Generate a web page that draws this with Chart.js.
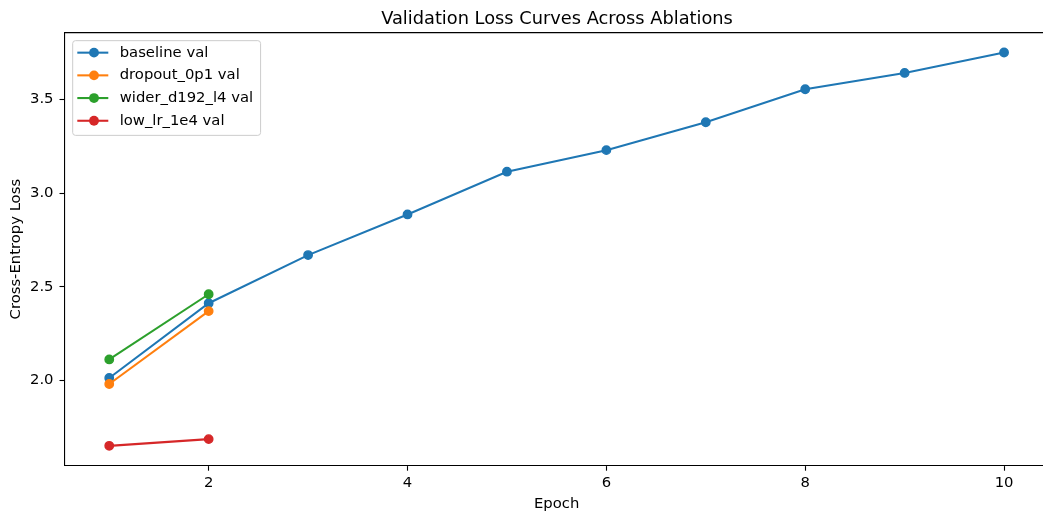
<!DOCTYPE html>
<html>
<head>
<meta charset="utf-8">
<script src="https://cdn.jsdelivr.net/npm/chart.js@4/dist/chart.umd.min.js"></script>
<style>
  html, body { margin: 0; padding: 0; background: #fff; overflow: hidden; width: 1043px; height: 518px; }
  #wrap { width: 1114px; height: 518px; }
</style>
</head>
<body>
<div id="wrap"><canvas id="c" width="1114" height="518"></canvas></div>
<script>
// ---- data ----
const epochs = [1, 2, 3, 4, 5, 6, 7, 8, 9, 10];
const baselineVal = [2.013, 2.412, 2.669, 2.886, 3.114, 3.229, 3.378, 3.554, 3.641, 3.750];
const dropoutVal = [1.981, 2.370];
const widerVal = [2.112, 2.460];
const lowLrVal = [1.651, 1.687];
const seriesLabels = ['baseline val', 'dropout_0p1 val', 'wider_d192_l4 val', 'low_lr_1e4 val'];
const xTickValues = [2, 4, 6, 8, 10];
const yTickValues = [2.0, 2.5, 3.0, 3.5];
const chartTitle = 'Validation Loss Curves Across Ablations';
const xTitle = 'Epoch';
const yTitle = 'Cross-Entropy Loss';

const colors = ['#1f77b4', '#ff7f0e', '#2ca02c', '#d62728'];
const FONT = 'DejaVu Sans';
const FS = 14.8;

function toPoints(vals) {
  return vals.map((v, i) => ({ x: epochs[i], y: v }));
}

const allSeries = [baselineVal, dropoutVal, widerVal, lowLrVal];
const datasets = allSeries.map((vals, i) => ({
  label: seriesLabels[i],
  data: toPoints(vals),
  yAxisID: 'y',
  borderColor: colors[i],
  backgroundColor: colors[i],
  pointBackgroundColor: colors[i],
  pointBorderColor: colors[i],
  borderWidth: 2.08,
  pointRadius: 4.2,
  pointBorderWidth: 1.4,
  pointHoverRadius: 4.2,
  tension: 0,
  fill: false,
  order: allSeries.length - i
}));

const framePlugin = {
  id: 'frame',
  afterDraw(chart) {
    const ctx = chart.ctx;
    const a = chart.chartArea;
    ctx.save();
    // top and right spines (right one lies just past the visible window)
    ctx.strokeStyle = '#000';
    ctx.lineWidth = 1.1;
    ctx.beginPath();
    ctx.moveTo(a.left, a.top);
    ctx.lineTo(a.right, a.top);
    ctx.lineTo(a.right, a.bottom);
    ctx.stroke();

    // legend (matplotlib style, upper left)
    ctx.font = FS + 'px "' + FONT + '"';
    const ds = chart.data.datasets;
    let maxW = 0;
    ds.forEach(d => { maxW = Math.max(maxW, ctx.measureText(d.label).width); });
    const bx = a.left + 8.2, by = a.top + 8;
    const textX = bx + 47;
    const bw = (textX - bx) + maxW + 7.5;
    const rowH = 22.7;
    const firstY = by + 12;
    const bh = 12 + rowH * (ds.length - 1) + 14.6;
    const r = 2.8;
    ctx.beginPath();
    ctx.moveTo(bx + r, by);
    ctx.lineTo(bx + bw - r, by);
    ctx.arcTo(bx + bw, by, bx + bw, by + r, r);
    ctx.lineTo(bx + bw, by + bh - r);
    ctx.arcTo(bx + bw, by + bh, bx + bw - r, by + bh, r);
    ctx.lineTo(bx + r, by + bh);
    ctx.arcTo(bx, by + bh, bx, by + bh - r, r);
    ctx.lineTo(bx, by + r);
    ctx.arcTo(bx, by, bx + r, by, r);
    ctx.closePath();
    ctx.fillStyle = 'rgba(255,255,255,0.8)';
    ctx.fill();
    ctx.strokeStyle = '#cccccc';
    ctx.lineWidth = 1;
    ctx.stroke();

    ds.forEach((d, i) => {
      const y = firstY + i * rowH;
      ctx.strokeStyle = d.borderColor;
      ctx.lineWidth = 2.08;
      ctx.beginPath();
      ctx.moveTo(bx + 4.6, y);
      ctx.lineTo(bx + 35.6, y);
      ctx.stroke();
      ctx.fillStyle = d.borderColor;
      ctx.beginPath();
      ctx.arc(bx + 21.3, y, 4.9, 0, Math.PI * 2);
      ctx.fill();
      ctx.fillStyle = '#000';
      ctx.textAlign = 'left';
      ctx.textBaseline = 'middle';
      ctx.fillText(d.label, textX, y);
    });
    ctx.restore();
  }
};

new Chart(document.getElementById('c'), {
  type: 'line',
  data: { datasets },
  plugins: [framePlugin],
  options: {
    responsive: false,
    animation: false,
    devicePixelRatio: 1,
    layout: { padding: 0, autoPadding: false },
    plugins: {
      legend: { display: false },
      tooltip: { enabled: false },
      title: {
        display: true,
        text: chartTitle,
        color: '#000',
        font: { family: FONT, size: 17.8, weight: 'normal' },
        padding: { top: 8.4, bottom: 2.9 }
      }
    },
    scales: {
      x: {
        type: 'linear',
        min: 0.55,
        max: 10.45,
        afterBuildTicks(scale) { scale.ticks = xTickValues.map(v => ({ value: v })); },
        afterFit(scale) {
          scale.height = 52.3;
          scale.paddingLeft = 0;
          scale.paddingRight = 0;
        },
        ticks: {
          color: '#000',
          font: { family: FONT, size: FS },
          padding: 3.5,
          maxRotation: 0,
          autoSkip: false,
          callback: v => String(v)
        },
        grid: {
          display: true,
          drawOnChartArea: false,
          drawTicks: true,
          tickLength: 5,
          tickColor: '#000',
          tickWidth: 1.1
        },
        border: { display: true, color: '#000', width: 1.1 },
        title: {
          display: true,
          text: xTitle,
          color: '#000',
          font: { family: FONT, size: FS },
          padding: { top: 0, bottom: 5 }
        }
      },
      y: {
        type: 'linear',
        position: 'left',
        min: 1.545,
        max: 3.856,
        afterBuildTicks(scale) { scale.ticks = yTickValues.map(v => ({ value: v })); },
        afterFit(scale) {
          scale.width = 64.5;
          scale.paddingTop = 0;
          scale.paddingBottom = 0;
        },
        ticks: {
          color: '#000',
          font: { family: FONT, size: FS },
          padding: 6,
          autoSkip: false,
          callback: v => Number(v).toFixed(1)
        },
        grid: {
          display: true,
          drawOnChartArea: false,
          drawTicks: true,
          tickLength: 5,
          tickColor: '#000',
          tickWidth: 1.1
        },
        border: { display: true, color: '#000', width: 1.1 },
        title: {
          display: true,
          text: yTitle,
          color: '#000',
          font: { family: FONT, size: FS },
          padding: { top: 7.2, bottom: 0 }
        }
      },
      yRight: {
        type: 'linear',
        position: 'right',
        display: true,
        min: 1.545,
        max: 3.856,
        afterFit(scale) {
          scale.width = 65.2;
          scale.paddingTop = 0;
          scale.paddingBottom = 0;
        },
        ticks: { display: false },
        grid: { display: false, drawTicks: false },
        border: { display: false }
      }
    }
  }
});
</script>
</body>
</html>
